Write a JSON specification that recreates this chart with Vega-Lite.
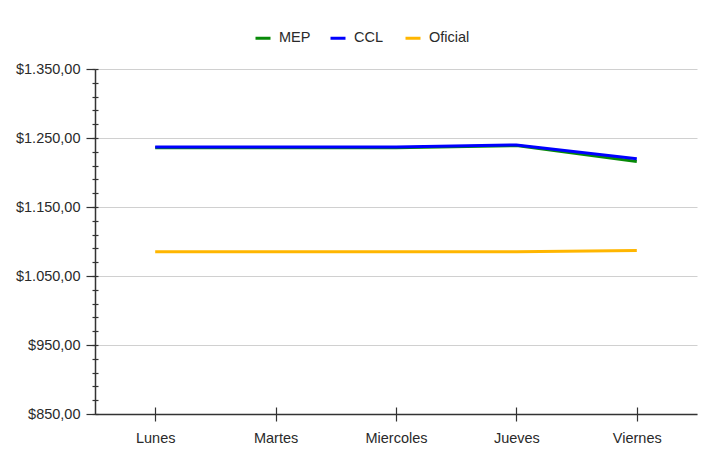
{
  "$schema": "https://vega.github.io/schema/vega-lite/v6.json",
  "width": 602,
  "height": 345,
  "autosize": {"type": "none"},
  "padding": {"left": 95, "top": 69, "right": 20, "bottom": 45},
  "background": "white",
  "config": {"view": {"stroke": null}, "font": "Liberation Sans"},
  "data": {"values": [
    {"dia": "Lunes", "serie": "MEP", "valor": 1236},
    {"dia": "Martes", "serie": "MEP", "valor": 1236},
    {"dia": "Miercoles", "serie": "MEP", "valor": 1236},
    {"dia": "Jueves", "serie": "MEP", "valor": 1239},
    {"dia": "Viernes", "serie": "MEP", "valor": 1216},
    {"dia": "Lunes", "serie": "CCL", "valor": 1237},
    {"dia": "Martes", "serie": "CCL", "valor": 1237},
    {"dia": "Miercoles", "serie": "CCL", "valor": 1237},
    {"dia": "Jueves", "serie": "CCL", "valor": 1240},
    {"dia": "Viernes", "serie": "CCL", "valor": 1220},
    {"dia": "Lunes", "serie": "Oficial", "valor": 1085},
    {"dia": "Martes", "serie": "Oficial", "valor": 1085},
    {"dia": "Miercoles", "serie": "Oficial", "valor": 1085},
    {"dia": "Jueves", "serie": "Oficial", "valor": 1085},
    {"dia": "Viernes", "serie": "Oficial", "valor": 1087}
  ]},
  "layer": [
    {
      "mark": {"type": "point", "opacity": 0},
      "encoding": {
        "x": {"field": "dia", "type": "nominal", "sort": ["Lunes", "Martes", "Miercoles", "Jueves", "Viernes"],
          "scale": {"type": "point", "padding": 0.5},
          "axis": {"orient": "top", "offset": -345, "domain": false, "labels": false, "title": null, "tickSize": 7, "tickColor": "#333", "tickWidth": 1.2, "grid": false}},
        "y": {"field": "valor", "type": "quantitative",
          "axis": {"orient": "right", "offset": -602, "values": [850,870,890,910,930,950,970,990,1010,1030,1050,1070,1090,1110,1130,1150,1170,1190,1210,1230,1250,1270,1290,1310,1330,1350], "domain": false, "labels": false, "title": null, "tickSize": 3, "tickColor": "#333", "tickWidth": 1.2, "grid": false}}
      }
    },
    {
      "mark": {"type": "point", "opacity": 0},
      "encoding": {
        "x": {"field": "dia", "type": "nominal", "sort": ["Lunes", "Martes", "Miercoles", "Jueves", "Viernes"],
          "axis": null},
        "y": {"field": "valor", "type": "quantitative",
          "axis": {"orient": "left", "values": [850,870,890,910,930,950,970,990,1010,1030,1050,1070,1090,1110,1130,1150,1170,1190,1210,1230,1250,1270,1290,1310,1330,1350], "domain": false, "labels": false, "title": null, "tickSize": 3, "tickColor": "#333", "tickWidth": 1.2, "grid": false}}
      }
    },
    {
      "mark": {"type": "line"},
      "encoding": {
        "x": {"field": "dia", "type": "nominal", "sort": ["Lunes", "Martes", "Miercoles", "Jueves", "Viernes"],
          "axis": {"orient": "bottom", "title": null, "labelAngle": 0, "labelFontSize": 14.5, "labelColor": "#2a2a2a", "labelPadding": 10, "tickSize": 7, "tickColor": "#333", "tickWidth": 1.2, "domainColor": "#333", "domainWidth": 1.5, "grid": false}},
        "y": {"field": "valor", "type": "quantitative",
          "scale": {"domain": [850, 1350], "nice": false, "zero": false},
          "axis": {"orient": "left", "title": null, "values": [850, 950, 1050, 1150, 1250, 1350],
            "labelExpr": "'$' + (datum.value >= 1000 ? floor(datum.value / 1000) + '.' + substring('' + datum.value, 1) : '' + datum.value) + ',00'",
            "labelFontSize": 14.5, "labelColor": "#2a2a2a", "labelPadding": 6, "tickSize": 9, "tickColor": "#333", "tickWidth": 1.2,
            "domainColor": "#333", "domainWidth": 1.5, "grid": true, "gridColor": "#d0d0d0", "gridWidth": 1}},
        "color": {"field": "serie", "type": "nominal",
          "scale": {"domain": ["MEP", "CCL", "Oficial"], "range": ["#078a07", "#0000ff", "#ffb600"]},
          "legend": {"orient": "none", "legendX": 159, "legendY": -40, "direction": "horizontal", "title": null,
            "symbolType": "stroke", "symbolStrokeWidth": 4, "symbolSize": 225, "labelFontSize": 14.5, "labelColor": "#2a2a2a",
            "labelOffset": 7, "columnPadding": 4, "gridAlign": "all", "padding": 0}},
        "strokeWidth": {"field": "serie", "type": "nominal",
          "scale": {"domain": ["MEP", "CCL", "Oficial"], "range": [3, 3, 2.5]}, "legend": null}
      }
    }
  ],
  "resolve": {"axis": {"x": "independent", "y": "independent"}}
}
